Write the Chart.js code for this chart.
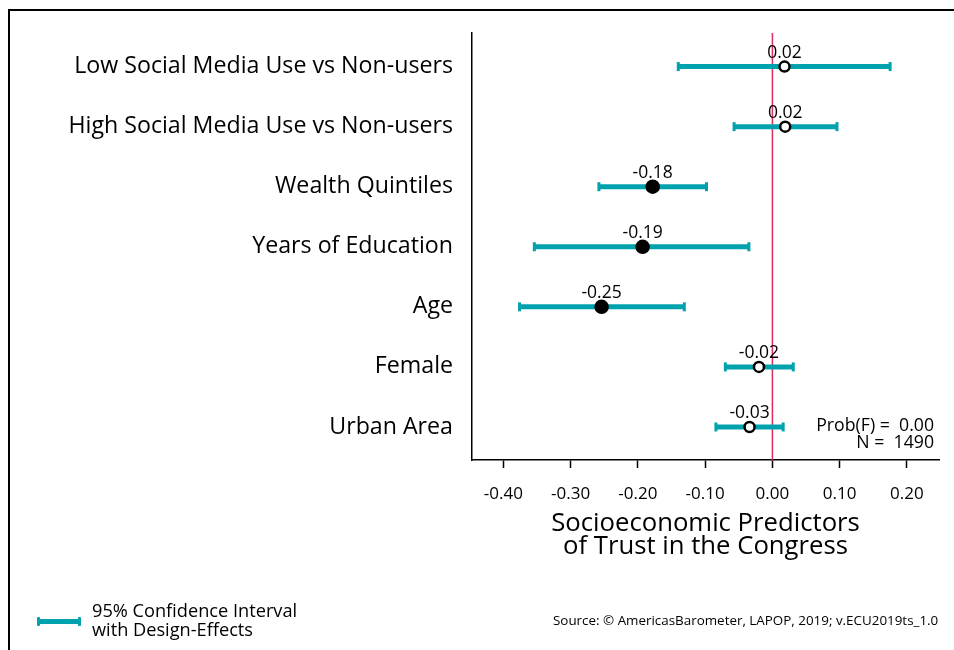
<!DOCTYPE html>
<html lang="en">
<head>
  <meta charset="UTF-8">
  <title>Socioeconomic Predictors of Trust in the Congress</title>
  <script src="https://cdn.jsdelivr.net/npm/chart.js"></script>
  <style>
    body {
      margin: 0;
      background: #fff;
      font-family: 'Open Sans', sans-serif;
      width: 954px;
      height: 650px;
      overflow: hidden;
      position: relative;
    }
    .frame {
      position: absolute;
      left: 8px;
      top: 9px;
      width: 960px;
      height: 660px;
      border-top: 2px solid #000;
      border-left: 2px solid #000;
    }
    #chartBox {
      position: absolute;
      left: 0;
      top: 0;
      width: 954px;
      height: 650px;
    }
    .legend {
      position: absolute;
      left: 38px;
      top: 601px;
    }
    .legend .swatch {
      position: absolute;
      left: 0;
      top: 18px;
      width: 42px;
      height: 5px;
      background: #00a3ad;
    }
    .legend .swatch::before, .legend .swatch::after {
      content: '';
      position: absolute;
      top: -2px;
      width: 3px;
      height: 9px;
      background: #00a3ad;
      border-radius: 1px;
    }
    .legend .swatch::before { left: -1px; }
    .legend .swatch::after { right: -1px; }
    .legend .text {
      position: absolute;
      left: 54px;
      top: 0;
      font-size: 18.2px;
      line-height: 19px;
      color: #000;
      white-space: nowrap;
    }
    .source {
      position: absolute;
      left: 553px;
      top: 611px;
      font-size: 13.4px;
      color: #000;
      white-space: nowrap;
    }
  </style>
</head>
<body>
  <div class="frame"></div>
  <div id="chartBox"><canvas id="coefChart"></canvas></div>
  <div class="legend">
    <div class="swatch"></div>
    <div class="text">95% Confidence Interval<br>with Design-Effects</div>
  </div>
  <div class="source">Source: © AmericasBarometer, LAPOP, 2019; v.ECU2019ts_1.0</div>
  <script>
    const predictors = [
      'Low Social Media Use vs Non-users',
      'High Social Media Use vs Non-users',
      'Wealth Quintiles',
      'Years of Education',
      'Age',
      'Female',
      'Urban Area'
    ];
    const estimates = [0.018, 0.019, -0.178, -0.193, -0.254, -0.020, -0.034];
    const estLabels = ['0.02', '0.02', '-0.18', '-0.19', '-0.25', '-0.02', '-0.03'];
    const ciLow = [-0.140, -0.057, -0.258, -0.354, -0.376, -0.070, -0.084];
    const ciHigh = [0.175, 0.096, -0.098, -0.035, -0.131, 0.031, 0.016];
    const significant = [false, false, true, true, true, false, false];
    const xTicks = [-0.4, -0.3, -0.2, -0.1, 0, 0.1, 0.2];
    const probF = '0.00';
    const nObs = '1490';

    const teal = '#00a3ad';
    const ink = '#000';

    const datasets = [];
    predictors.forEach((name, i) => {
      datasets.push({
        label: name,
        data: [{x: ciLow[i], y: i + 1}, {x: ciHigh[i], y: i + 1}],
        borderColor: teal,
        borderWidth: 5,
        pointStyle: 'line',
        rotation: 90,
        pointRadius: 4.5,
        pointHoverRadius: 4.5,
        pointBorderWidth: 3,
        pointBorderColor: teal,
        pointBackgroundColor: teal,
        order: 2
      });
    });
    datasets.push({
      label: 'Estimates',
      data: estimates.map((v, i) => ({x: v, y: i + 1})),
      showLine: false,
      pointRadius: significant.map(s => s ? 6 : 5),
      pointBorderWidth: 2.5,
      pointBorderColor: '#000',
      pointBackgroundColor: significant.map(s => s ? '#000' : '#fff'),
      order: 0
    });

    const extras = {
      id: 'extras',
      beforeDatasetsDraw(chart) {
        const {ctx, chartArea, scales} = chart;
        const x0 = scales.x.getPixelForValue(0);
        ctx.save();
        ctx.strokeStyle = '#dc2d5c';
        ctx.lineWidth = 1.5;
        ctx.beginPath();
        ctx.moveTo(x0, chartArea.top);
        ctx.lineTo(x0, chartArea.bottom);
        ctx.stroke();
        ctx.restore();
      },
      afterDatasetsDraw(chart) {
        const {ctx, chartArea, scales} = chart;
        ctx.save();
        ctx.fillStyle = ink;
        ctx.font = '17.5px "Open Sans"';
        ctx.textAlign = 'center';
        ctx.textBaseline = 'middle';
        estimates.forEach((v, i) => {
          ctx.fillText(estLabels[i], scales.x.getPixelForValue(v), scales.y.getPixelForValue(i + 1) - 14);
        });
        ctx.textAlign = 'right';
        ctx.font = '17.7px "Open Sans"';
        ctx.fillText('Prob(F) =  ' + probF, chartArea.right - 5, 426);
        ctx.fillText('N =  ' + nObs, chartArea.right - 5, 443);
        ctx.restore();
      }
    };

    new Chart(document.getElementById('coefChart'), {
      type: 'line',
      data: {datasets},
      plugins: [extras],
      options: {
        responsive: true,
        maintainAspectRatio: false,
        animation: false,
        layout: {padding: {top: 32, right: 15, left: 0, bottom: 91}},
        plugins: {
          legend: {display: false},
          tooltip: {enabled: false}
        },
        scales: {
          x: {
            type: 'linear',
            min: -0.4467,
            max: 0.2477,
            afterBuildTicks: s => { s.ticks = xTicks.map(v => ({value: v})); },
            afterFit: s => { s.height = 99; },
            grid: {
              drawOnChartArea: false,
              drawTicks: true,
              tickLength: 8,
              tickWidth: 1.5,
              tickColor: '#000'
            },
            border: {display: true, color: '#000', width: 1.5},
            ticks: {
              color: ink,
              font: {family: 'Open Sans', size: 17},
              padding: 16,
              maxRotation: 0,
              callback: v => v.toFixed(2)
            },
            title: {
              display: true,
              text: ['Socioeconomic Predictors', 'of Trust in the Congress'],
              color: '#000',
              font: {family: 'Open Sans', size: 25.7, lineHeight: 0.92},
              padding: {top: 2, bottom: 0}
            }
          },
          y: {
            type: 'linear',
            reverse: true,
            min: 0.44,
            max: 7.55,
            afterBuildTicks: s => { s.ticks = predictors.map((p, i) => ({value: i + 1})); },
            afterFit: s => { s.width = 472; },
            grid: {display: false, drawTicks: false},
            border: {display: true, color: '#000', width: 1.5},
            ticks: {
              color: ink,
              font: {family: 'Open Sans', size: 23.2},
              padding: 19,
              autoSkip: false,
              callback: v => predictors[v - 1]
            }
          }
        }
      }
    });
  </script>
</body>
</html>
